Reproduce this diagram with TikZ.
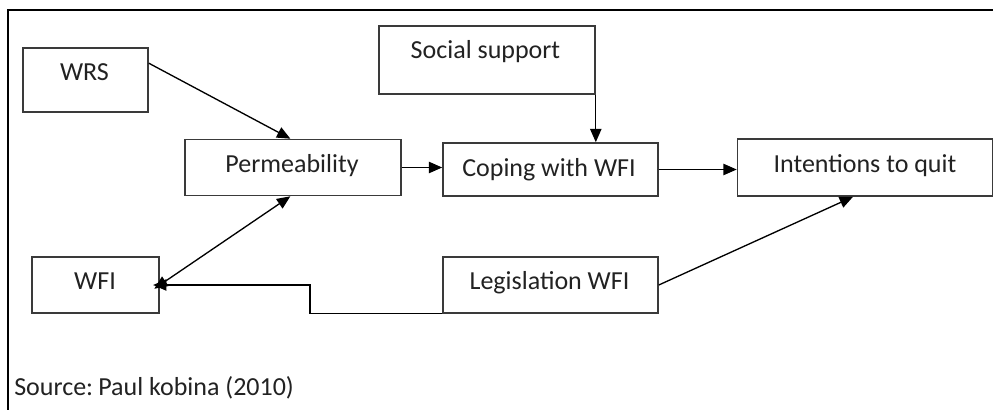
\documentclass[tikz,border=0pt]{standalone}
\usepackage{fontspec}
\setmainfont{Carlito}
\usetikzlibrary{arrows.meta,calc}
\definecolor{boxline}{HTML}{3A3A3A}
\definecolor{txtc}{HTML}{222222}
\begin{document}
\begin{tikzpicture}[x=0.75pt,y=-0.75pt,
  box/.style={draw=boxline,line width=1.2pt,inner sep=0pt,fill=white},
  lbl/.style={anchor=base,inner sep=0pt,text=txtc,font=\fontsize{19.5}{22}\selectfont},
  tip/.style={Triangle[length=10pt,width=8.5pt]},
  arr/.style={draw=black,line width=1pt,-{Triangle[length=10pt,width=8.5pt]}},
  plain/.style={draw=black,line width=1pt}]
\useasboundingbox (0,0) rectangle (993,410);
\fill[white] (0,0) rectangle (993,410);
% frame (right and bottom edges lie outside the picture)
\draw[line width=1.5pt] (993,10) -- (8,10) -- (8,410);
% boxes
\node[box,minimum width=93.75pt,minimum height=48pt] (wrs) at (85.5,80) {};
\node[box,minimum width=162pt,minimum height=42pt] (perm) at (293,167.5) {};
\node[box,minimum width=162pt,minimum height=51pt] (soc) at (487,60) {};
\node[box,minimum width=161.25pt,minimum height=39.75pt] (cop) at (550.5,169.5) {};
\node[box,minimum width=191.25pt,minimum height=42.75pt] (int) at (865,167.5) {};
\node[box,minimum width=95.25pt,minimum height=42pt] (wfi) at (95.5,285) {};
\node[box,minimum width=161.25pt,minimum height=42pt] (leg) at (550.5,285) {};
% texts
\node[lbl] (twrs) at (84.5,81) {WRS};
\node[lbl] (tperm) at (292,172) {Permeability};
\node[lbl] (tsoc) at (485.5,59) {Social support};
\node[lbl] (tcop) at (549,176) {Coping with WFI};
\node[lbl] (tint) at (865,172) {Intentions to quit};
\node[lbl] (twfi) at (95,289) {WFI};
\node[lbl] (tleg) at (549.5,289) {Legislation WFI};
\node[lbl,anchor=base west] (src) at (14,395) {Source:\hspace{-2pt} Paul kobina (2010)};
% connectors
\draw[arr] ([yshift=-12pt]wrs.north east) -- ([xshift=-2pt]perm.north);
\draw[arr] (perm.east) -- (perm.east -| cop.west);
\draw[arr] (soc.south east) -- (soc.south east |- cop.north);
\draw[arr] (cop.east) -- (cop.east -| int.west);
\draw[arr] (leg.east) -- ([xshift=-9pt]int.south);
\draw[plain,{Triangle[length=10pt,width=8.5pt]}-{Triangle[length=10pt,width=8.5pt]},shorten <=-5pt] (wfi.east) -- ([xshift=-2pt]perm.south);
\coordinate (bend) at (310,285);
\draw[arr,shorten >=-5pt] (leg.south west) -| (bend) -- (wfi.east);
\end{tikzpicture}
\end{document}
